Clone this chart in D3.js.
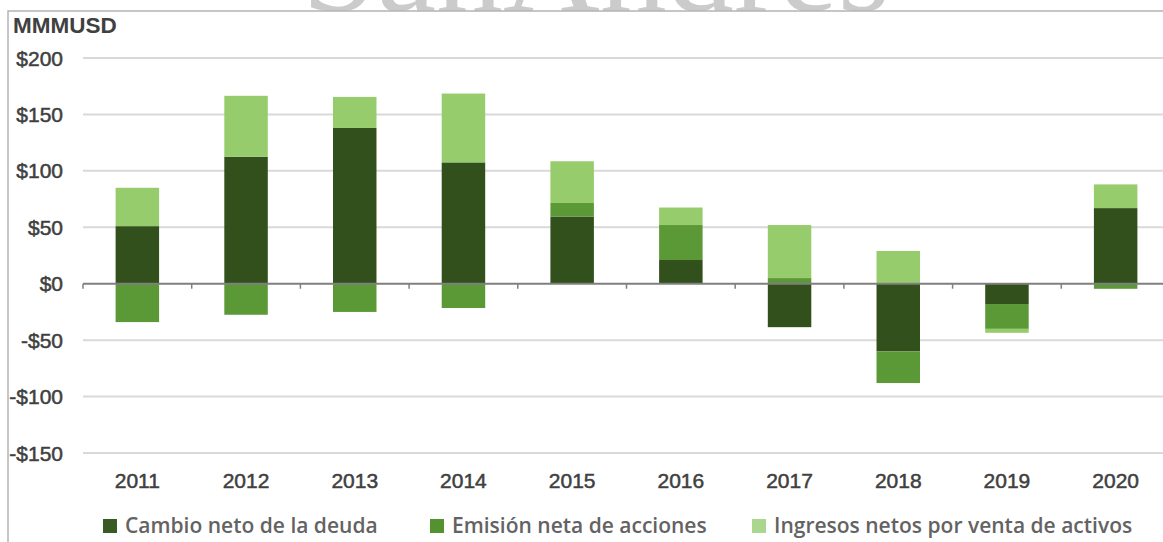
<!DOCTYPE html>
<html>
<head>
<meta charset="utf-8">
<script src="https://cdn.jsdelivr.net/npm/d3@7"></script>
<style>
  body { margin: 0; background: #fff; }
  svg { display: block; }
</style>
</head>
<body>
<svg id="chart" width="1163" height="542"></svg>
<script>
// values, MMMUSD
const years = ["2011", "2012", "2013", "2014", "2015", "2016", "2017", "2018", "2019", "2020"];
const deuda = [51, 112.5, 138, 107.5, 59.5, 21, -38.5, -60, -18, 67];
const acciones = [-34, -27.5, -25, -21.5, 12, 31, 5, -28, -22, -4.5];
const activos = [34, 54, 27.5, 61, 37, 15.5, 47, 29, -3.5, 21];
const seriesNames = ["Cambio neto de la deuda", "Emisión neta de acciones", "Ingresos netos por venta de activos"];
const yTicks = [200, 150, 100, 50, 0, -50, -100, -150];

const colors = ["#31501b", "#5b9836", "#97cc6c"];
const legendColors = ["#375b23", "#54922f", "#aad68e"];

const svg = d3.select("#chart");
const W = 1163, H = 542;

svg.append("rect").attr("width", W).attr("height", H).attr("fill", "#fff");

// watermark peeking above the frame
svg.append("clipPath").attr("id", "topclip")
  .append("rect").attr("x", 0).attr("y", 0).attr("width", W).attr("height", 11);
svg.append("text")
  .attr("clip-path", "url(#topclip)")
  .attr("x", 302).attr("y", 11)
  .attr("textLength", 588).attr("lengthAdjust", "spacingAndGlyphs")
  .attr("font-family", "Liberation Serif, serif")
  .attr("font-size", 134)
  .attr("fill", "#cbcbcb")
  .text("SanAndres");

// frame
svg.append("path")
  .attr("d", `M8,${H} V11 H${W}`)
  .attr("fill", "none").attr("stroke", "#b4b4b4").attr("stroke-width", 1.5);

const x = d3.scaleBand().domain(years).range([83, 1170]).paddingInner(0.6).paddingOuter(0.3);
const y = d3.scaleLinear().domain([-150, 200]).range([453, 58]);

// gridlines
svg.append("g")
  .selectAll("line")
  .data(yTicks.filter(d => d !== 0))
  .join("line")
  .attr("x1", 83).attr("x2", W)
  .attr("y1", d => y(d)).attr("y2", d => y(d))
  .attr("stroke", "#d9d9d9").attr("stroke-width", 2);

// y labels
svg.append("g")
  .selectAll("text")
  .data(yTicks)
  .join("text")
  .attr("x", 63).attr("y", d => y(d)).attr("dy", "0.36em")
  .attr("text-anchor", "end")
  .attr("font-family", "Liberation Sans, Arial, sans-serif")
  .attr("font-size", 21)
  .attr("fill", "#404040").attr("stroke", "#404040").attr("stroke-width", 0.5)
  .text(d => (d < 0 ? "-$" : "$") + Math.abs(d));

// stacked bars
const table = years.map((yr, i) => ({ year: yr, deuda: deuda[i], acciones: acciones[i], activos: activos[i] }));
const stack = d3.stack().keys(["deuda", "acciones", "activos"]).offset(d3.stackOffsetDiverging);
const layers = stack(table);

svg.append("g")
  .selectAll("g")
  .data(layers)
  .join("g")
  .attr("fill", (d, i) => colors[i])
  .selectAll("rect")
  .data(d => d)
  .join("rect")
  .attr("x", d => x(d.data.year))
  .attr("width", x.bandwidth())
  .attr("y", d => y(Math.max(d[0], d[1])))
  .attr("height", d => Math.abs(y(d[0]) - y(d[1])));

// zero axis with category ticks
const step = x.step();
const boundaries = years.map((yr, i) => 83 + i * step);
svg.append("line")
  .attr("x1", 83).attr("x2", W).attr("y1", y(0)).attr("y2", y(0))
  .attr("stroke", "#7f7f7f").attr("stroke-width", 2);
svg.append("g")
  .selectAll("line")
  .data(boundaries)
  .join("line")
  .attr("x1", d => d).attr("x2", d => d)
  .attr("y1", y(0)).attr("y2", y(0) + 5)
  .attr("stroke", "#7f7f7f").attr("stroke-width", 1.5);

// year labels
svg.append("g")
  .selectAll("text")
  .data(years)
  .join("text")
  .attr("x", d => x(d) + x.bandwidth() / 2).attr("y", 488)
  .attr("text-anchor", "middle")
  .attr("font-family", "Liberation Sans, Arial, sans-serif")
  .attr("font-size", 21)
  .attr("fill", "#404040").attr("stroke", "#404040").attr("stroke-width", 0.5)
  .text(d => d);

// unit title
svg.append("text")
  .attr("x", 13).attr("y", 33)
  .attr("font-family", "Liberation Sans, Arial, sans-serif")
  .attr("font-weight", "bold")
  .attr("font-size", 22.5)
  .attr("fill", "#404040")
  .text("MMMUSD");

// legend
const legendX = [103, 430, 752];
const legend = svg.append("g")
  .selectAll("g")
  .data(seriesNames)
  .join("g")
  .attr("transform", (d, i) => `translate(${legendX[i]},519)`);
legend.append("rect")
  .attr("width", 14).attr("height", 14)
  .attr("fill", (d, i) => legendColors[i]);
legend.append("text")
  .attr("x", 22).attr("y", 14)
  .attr("font-family", "Open Sans, sans-serif")
  .attr("font-weight", 600)
  .attr("font-size", 21)
  .attr("fill", "#636363")
  .text(d => d);
</script>
</body>
</html>
